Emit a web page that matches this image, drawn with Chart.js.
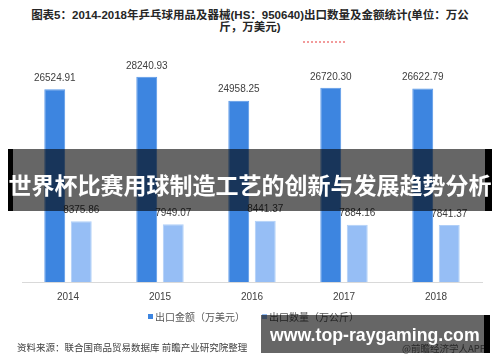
<!DOCTYPE html>
<html>
<head>
<meta charset="utf-8">
<script src="https://cdn.jsdelivr.net/npm/chart.js@4.4.1/dist/chart.umd.min.js"></script>
<style>
  body { margin: 0; background: #fff; }
  #wrap { position: relative; width: 500px; height: 362px; overflow: hidden; background: #fff;
          font-family: "Liberation Sans", "Noto Sans CJK SC", sans-serif; }
  #chartBox { position: absolute; left: 0; top: 0; width: 500px; height: 362px; }
  #title { position: absolute; left: 0; top: 9px; width: 500px; text-align: center;
           font: bold 11.5px/12px "Liberation Sans", "Noto Sans CJK SC", sans-serif; color: #262626; }
  #redDots { position: absolute; left: 303px; top: 41px; width: 42px; border-top: 2px dotted #f29b9b; }
  .legend { position: absolute; top: 310px; font: 10px/14px "Noto Sans CJK SC", sans-serif; color: #595959; white-space: nowrap; }
  .legend i { display: inline-block; width: 5px; height: 5px; margin-right: 2px; vertical-align: 2px; }
  #source { position: absolute; left: 17px; top: 340px; font: 9.5px/14px "Noto Sans CJK SC", sans-serif; color: #404040; white-space: nowrap; }
  #app { position: absolute; left: 402px; top: 341px; font: 9.5px/14px "Noto Sans CJK SC", sans-serif; color: #666; white-space: nowrap; }
  #banner1 { position: absolute; left: 8px; top: 149px; width: 472px; height: 62px; background: rgba(0,0,0,0.6);
             border-left: 5px solid #000; border-right: 7px solid #000; }
  #banner1 span { position: absolute; left: -5px; width: 484px; top: 35px; transform: translateY(-50%); text-align: center;
                  font: bold 23px "Noto Sans CJK SC", sans-serif; color: #fff; white-space: nowrap; }
  #banner2 { position: absolute; left: 261px; top: 315px; width: 223px; height: 38px; background: rgba(0,0,0,0.6);
             border-right: 6px solid #000; }
  #banner2 span { position: absolute; left: 9px; top: 20px; transform: translateY(-50%);
                  font: bold 17.7px "Liberation Sans", sans-serif; color: #fff; white-space: nowrap; }
</style>
</head>
<body>
<div id="wrap">
  <div id="title">图表5：2014-2018年乒乓球用品及器械(HS：950640)出口数量及金额统计(单位：万公<br>斤，万美元)</div>
  <div id="redDots"></div>
  <div id="chartBox"><canvas id="chart"></canvas></div>
  <div class="legend" style="left:148px"><i style="background:#3d85e0"></i>出口金额（万美元）</div>
  <div class="legend" style="left:262px"><i style="background:#96bef5"></i>出口数量（万公斤）</div>
  <div id="source">资料来源：联合国商品贸易数据库 前瞻产业研究院整理</div>
  <div id="app">@前瞻经济学人APP</div>
  <div id="banner1"><span>世界杯比赛用球制造工艺的创新与发展趋势分析</span></div>
  <div id="banner2"><span>www.top-raygaming.com</span></div>
</div>
<script>
// ==================== DATA ====================
const years = ['2014', '2015', '2016', '2017', '2018'];
const exportValue = [26524.91, 28240.93, 24958.25, 26720.30, 26622.79];   // 出口金额（万美元）
const exportQty = [8375.86, 7949.07, 8441.37, 7884.16, 7841.37];          // 出口数量（万公斤）
const seriesNames = ['出口金额（万美元）', '出口数量（万公斤）'];

// value labels above every bar
const barLabels = {
    id: 'barLabels',
    afterDatasetsDraw(chart) {
        const ctx = chart.ctx;
        ctx.save();
        ctx.font = '10px "Liberation Sans", sans-serif';
        ctx.fillStyle = '#404040';
        ctx.textAlign = 'center';
        ctx.textBaseline = 'middle';
        chart.data.datasets.forEach((ds, i) => {
            chart.getDatasetMeta(i).data.forEach((bar, j) => {
                ctx.fillText(ds.data[j].toFixed(2), bar.x, bar.y - 11);
            });
        });
        ctx.restore();
    }
};

new Chart(document.getElementById('chart'), {
    type: 'bar',
    data: {
        labels: years,
        datasets: [
            { label: seriesNames[0], data: exportValue, backgroundColor: '#3d85e0', borderColor: '#5a98e8', borderWidth: 1 },
            { label: seriesNames[1], data: exportQty, backgroundColor: '#96bef5', borderColor: '#b0cff8', borderWidth: 1 }
        ]
    },
    options: {
        responsive: true,
        maintainAspectRatio: false,
        animation: false,
        categoryPercentage: 0.576,
        barPercentage: 0.79,
        layout: { padding: { left: 22, right: 18, top: 64, bottom: 50 } },
        plugins: { legend: { display: false }, tooltip: { enabled: false } },
        scales: {
            x: {
                grid: { display: false, drawTicks: false },
                border: { display: true, color: '#d9d9d9' },
                ticks: { color: '#404040', padding: 9, font: { size: 10, family: '"Liberation Sans", sans-serif' } }
            },
            y: { display: false, min: 0, max: 30000 }
        }
    },
    plugins: [barLabels]
});
</script>
</body>
</html>
